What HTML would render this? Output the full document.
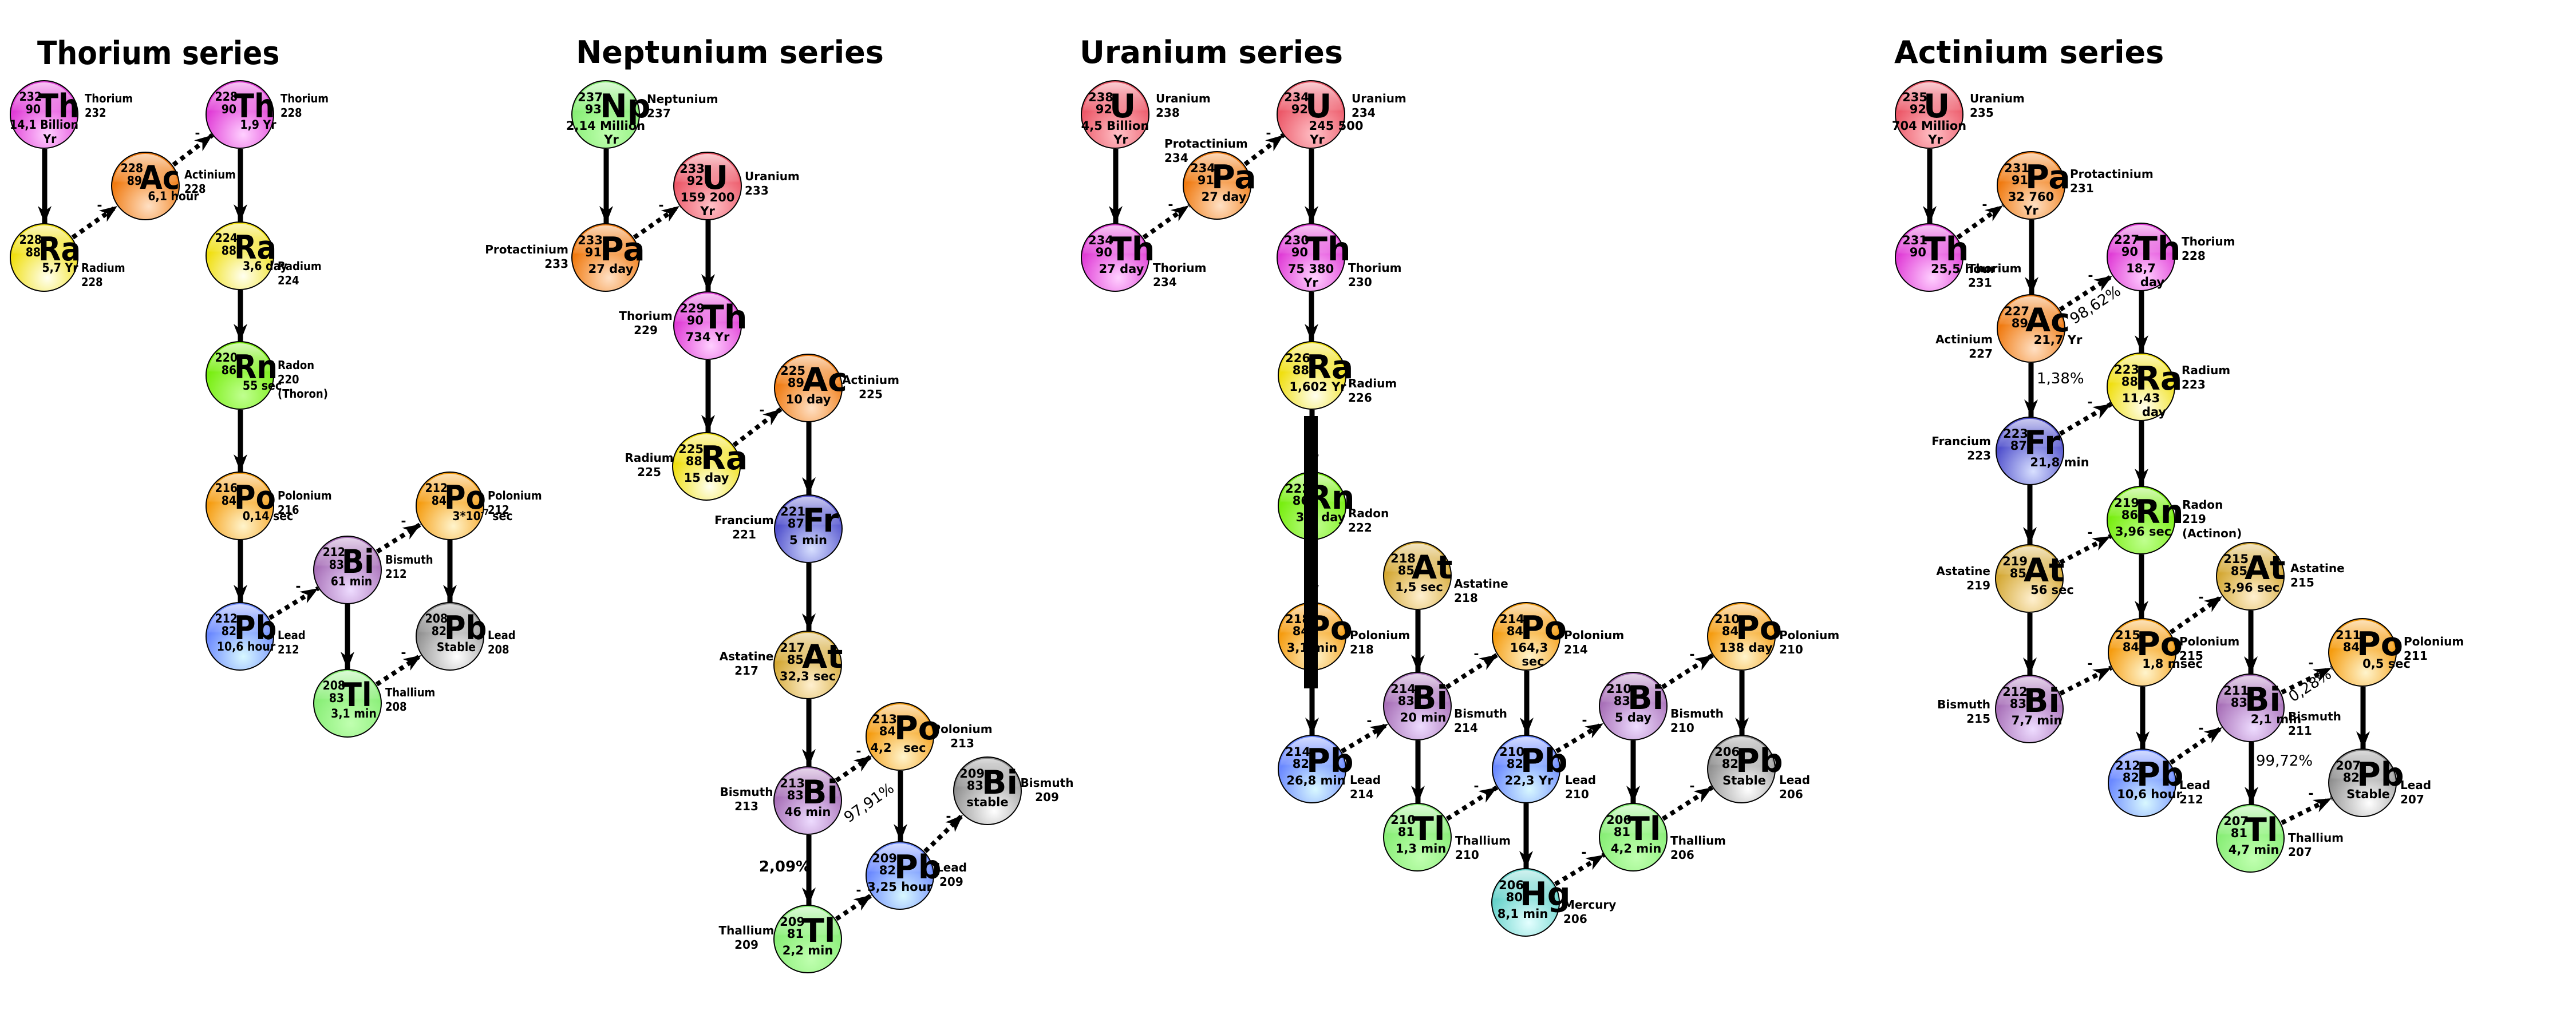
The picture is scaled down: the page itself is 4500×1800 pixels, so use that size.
<!DOCTYPE html>
<html><head><meta charset="utf-8">
<style>
html,body{margin:0;padding:0;background:#fff;}
svg{display:block;}
text{font-family:"DejaVu Sans","Liberation Sans",sans-serif;font-weight:bold;fill:#000;}
.cond text{font-family:"DejaVu Sans Condensed","DejaVu Sans","Liberation Sans Narrow",sans-serif;font-stretch:condensed;}
.n{font-size:21px;text-anchor:end;}
.s{font-size:57px;}
.h{font-size:21px;text-anchor:middle;}
.l{font-size:20px;}
.le{font-size:20px;text-anchor:end;}
.lm{font-size:20px;text-anchor:middle;}
.t{font-size:54px;}
.m{font-size:22px;text-anchor:middle;}
.p{font-size:26px;font-weight:normal;}
.pb{font-size:26px;}
.v{stroke:#000;stroke-width:9;marker-end:url(#ah);fill:none;}
.d{stroke:#000;stroke-width:8;stroke-dasharray:8 8;marker-end:url(#ah);fill:none;}
.c{stroke:#000;stroke-width:2;}
</style></head><body>
<svg width="4500" height="1800" viewBox="0 0 4500 1800" xmlns="http://www.w3.org/2000/svg">
<defs>
<marker id="ah" markerUnits="userSpaceOnUse" viewBox="-32 -13 34 26" markerWidth="34" markerHeight="26" refX="0" refY="0" orient="auto">
<path d="M0,0 L-31,-12 L-22,0 L-31,12 Z" fill="#000"/></marker>
<linearGradient id="gloss" x1="0" y1="0" x2="0" y2="1">
<stop offset="0" stop-color="#fff" stop-opacity="0.7"/><stop offset="0.42" stop-color="#fff" stop-opacity="0.12"/><stop offset="0.45" stop-color="#fff" stop-opacity="0"/><stop offset="1" stop-color="#fff" stop-opacity="0"/></linearGradient>
<circle id="gl" r="56" fill="url(#gloss)"/>
<radialGradient id="gTh" cx="0.55" cy="0.8" r="0.6"><stop offset="0" stop-color="#ffd0ff"/><stop offset="1" stop-color="#e03cd6"/></radialGradient>
<radialGradient id="gRa" cx="0.55" cy="0.8" r="0.6"><stop offset="0" stop-color="#fffff0"/><stop offset="1" stop-color="#f0df10"/></radialGradient>
<radialGradient id="gOr" cx="0.55" cy="0.8" r="0.6"><stop offset="0" stop-color="#ffe0c4"/><stop offset="1" stop-color="#f07a10"/></radialGradient>
<radialGradient id="gPo" cx="0.55" cy="0.8" r="0.6"><stop offset="0" stop-color="#fff4cc"/><stop offset="1" stop-color="#f59c10"/></radialGradient>
<radialGradient id="gRn" cx="0.55" cy="0.8" r="0.6"><stop offset="0" stop-color="#c0ff90"/><stop offset="1" stop-color="#78ee10"/></radialGradient>
<radialGradient id="gPb" cx="0.55" cy="0.8" r="0.6"><stop offset="0" stop-color="#d8f8ff"/><stop offset="1" stop-color="#6a88ff"/></radialGradient>
<radialGradient id="gSt" cx="0.6" cy="0.8" r="0.7"><stop offset="0" stop-color="#ffffff"/><stop offset="1" stop-color="#888888"/></radialGradient>
<radialGradient id="gBi" cx="0.55" cy="0.8" r="0.6"><stop offset="0" stop-color="#eedcff"/><stop offset="1" stop-color="#a870b8"/></radialGradient>
<radialGradient id="gTl" cx="0.55" cy="0.8" r="0.6"><stop offset="0" stop-color="#c0ffb0"/><stop offset="1" stop-color="#88ee76"/></radialGradient>
<radialGradient id="gU" cx="0.55" cy="0.8" r="0.6"><stop offset="0" stop-color="#ffc0c6"/><stop offset="1" stop-color="#ec5868"/></radialGradient>
<radialGradient id="gFr" cx="0.55" cy="0.8" r="0.6"><stop offset="0" stop-color="#d8e0ff"/><stop offset="1" stop-color="#5050cc"/></radialGradient>
<radialGradient id="gAt" cx="0.55" cy="0.8" r="0.6"><stop offset="0" stop-color="#fff0d0"/><stop offset="1" stop-color="#d4a834"/></radialGradient>
<radialGradient id="gHg" cx="0.55" cy="0.8" r="0.6"><stop offset="0" stop-color="#e4ffff"/><stop offset="1" stop-color="#66d2ca"/></radialGradient>
</defs>

<!-- ================= ARROWS ================= -->
<line class="v" x1="78" y1="260" x2="78" y2="391"/>
<line class="d" x1="127" y1="415" x2="205" y2="360"/>
<line class="d" x1="303" y1="288" x2="371" y2="236"/>
<line class="v" x1="420" y1="260" x2="420" y2="388"/>
<line class="v" x1="420" y1="507" x2="420" y2="597"/>
<line class="v" x1="420" y1="716" x2="420" y2="825"/>
<line class="v" x1="420" y1="944" x2="420" y2="1053"/>
<line class="d" x1="471" y1="1080" x2="556" y2="1028"/>
<line class="d" x1="659" y1="964" x2="735" y2="916"/>
<line class="v" x1="607" y1="1056" x2="607" y2="1170"/>
<line class="v" x1="786" y1="944" x2="786" y2="1053"/>
<line class="d" x1="658" y1="1196" x2="736" y2="1145"/>
<line class="v" x1="1059" y1="260" x2="1059" y2="391"/>
<line class="d" x1="1108" y1="415" x2="1187" y2="360"/>
<line class="v" x1="1237" y1="385" x2="1237" y2="510"/>
<line class="v" x1="1237" y1="629" x2="1237" y2="756"/>
<line class="d" x1="1282" y1="778" x2="1364" y2="715"/>
<line class="v" x1="1413" y1="738" x2="1413" y2="865"/>
<line class="v" x1="1413" y1="984" x2="1413" y2="1103"/>
<line class="v" x1="1413" y1="1222" x2="1413" y2="1340"/>
<line class="d" x1="1461" y1="1364" x2="1523" y2="1321"/>
<line class="v" x1="1413" y1="1459" x2="1413" y2="1582"/>
<line class="v" x1="1573" y1="1347" x2="1573" y2="1471"/>
<line class="d" x1="1461" y1="1606" x2="1523" y2="1564"/>
<line class="d" x1="1616" y1="1488" x2="1682" y2="1424"/>
<line class="v" x1="1949" y1="260" x2="1949" y2="391"/>
<line class="d" x1="1998" y1="415" x2="2077" y2="359"/>
<line class="d" x1="2175" y1="287" x2="2242" y2="236"/>
<line class="v" x1="2291" y1="260" x2="2291" y2="391"/>
<line class="v" x1="2291" y1="510" x2="2291" y2="597"/>
<line class="v" x1="2292" y1="716" x2="2292" y2="825"/>
<line class="v" x1="2292" y1="944" x2="2292" y2="1053"/>
<line class="v" x1="2292" y1="1172" x2="2292" y2="1285"/>
<line class="d" x1="2344" y1="1313" x2="2425" y2="1265"/>
<line class="v" x1="2477" y1="1066" x2="2477" y2="1175"/>
<line class="d" x1="2527" y1="1201" x2="2616" y2="1144"/>
<line class="v" x1="2477" y1="1294" x2="2477" y2="1404"/>
<line class="d" x1="2528" y1="1431" x2="2615" y2="1376"/>
<line class="v" x1="2667" y1="1172" x2="2667" y2="1285"/>
<line class="v" x1="2666" y1="1404" x2="2666" y2="1518"/>
<line class="d" x1="2719" y1="1313" x2="2801" y2="1264"/>
<line class="d" x1="2717" y1="1545" x2="2802" y2="1494"/>
<line class="v" x1="2853" y1="1294" x2="2853" y2="1404"/>
<line class="d" x1="2904" y1="1201" x2="2992" y2="1145"/>
<line class="v" x1="3043" y1="1172" x2="3043" y2="1285"/>
<line class="d" x1="2905" y1="1431" x2="2991" y2="1376"/>
<line class="v" x1="3371" y1="260" x2="3371" y2="391"/>
<line class="d" x1="3420" y1="415" x2="3499" y2="359"/>
<line class="v" x1="3549" y1="384" x2="3549" y2="515"/>
<line class="d" x1="3599" y1="541" x2="3690" y2="482"/>
<line class="v" x1="3548" y1="634" x2="3548" y2="729"/>
<line class="v" x1="3741" y1="509" x2="3741" y2="617"/>
<line class="d" x1="3599" y1="758" x2="3688" y2="706"/>
<line class="v" x1="3741" y1="736" x2="3741" y2="850"/>
<line class="v" x1="3546" y1="848" x2="3546" y2="952"/>
<line class="d" x1="3599" y1="983" x2="3687" y2="937"/>
<line class="v" x1="3741" y1="969" x2="3741" y2="1081"/>
<line class="v" x1="3546" y1="1071" x2="3546" y2="1180"/>
<line class="d" x1="3792" y1="1105" x2="3882" y2="1042"/>
<line class="d" x1="3599" y1="1212" x2="3688" y2="1167"/>
<line class="v" x1="3743" y1="1200" x2="3743" y2="1309"/>
<line class="v" x1="3932" y1="1067" x2="3932" y2="1178"/>
<line class="d" x1="3792" y1="1333" x2="3882" y2="1271"/>
<line class="d" x1="3986" y1="1210" x2="4073" y2="1167"/>
<line class="v" x1="3933" y1="1297" x2="3933" y2="1406"/>
<line class="v" x1="4128" y1="1200" x2="4128" y2="1309"/>
<line class="d" x1="3986" y1="1438" x2="4073" y2="1395"/>

<g>
<text class="m" x="174" y="366">-</text><text class="m" x="345" y="240">-</text><text class="m" x="521" y="1032">-</text><text class="m" x="705" y="918">-</text><text class="m" x="705" y="1148">-</text>
<text class="m" x="1155" y="366">-</text><text class="m" x="1331" y="724">-</text><text class="m" x="1500" y="1320">-</text><text class="m" x="1500" y="1563">-</text><text class="m" x="1657" y="1434">-</text>
<text class="m" x="2045" y="365">-</text><text class="m" x="2216" y="240">-</text><text class="m" x="2392" y="1267">-</text><text class="m" x="2579" y="1150">-</text><text class="m" x="2579" y="1381">-</text><text class="m" x="2768" y="1266">-</text><text class="m" x="2767" y="1497">-</text><text class="m" x="2956" y="1151">-</text><text class="m" x="2956" y="1381">-</text>
<text class="m" x="3467" y="365">-</text><text class="m" x="3652" y="489">-</text><text class="m" x="3651" y="710">-</text><text class="m" x="3651" y="938">-</text><text class="m" x="3651" y="1167">-</text><text class="m" x="3845" y="1051">-</text><text class="m" x="3845" y="1280">-</text><text class="m" x="4037" y="1166">-</text><text class="m" x="4037" y="1394">-</text>
</g>

<text class="p" transform="translate(1523,1410) rotate(-35)" text-anchor="middle">97,91%</text>
<text class="pb" x="1371" y="1523" text-anchor="middle">2,09%</text>
<text class="p" transform="translate(3665,540) rotate(-33)" text-anchor="middle">98,62%</text>
<text class="p" x="3558" y="670">1,38%</text>
<text class="p" transform="translate(4040,1205) rotate(-33)" text-anchor="middle">0,28%</text>
<text class="p" x="3941" y="1338">99,72%</text>

<g class="cond"><text x="65" y="112" style="font-size:56px">Thorium series</text></g>
<text class="t" x="1006" y="110">Neptunium series</text>
<text class="t" x="1886" y="110">Uranium series</text>
<text class="t" x="3309" y="110">Actinium series</text>

<g class="cond">
<g transform="translate(77,200)"><circle class="c" r="59" fill="url(#gTh)"/><use href="#gl"/><text class="n" x="-4" y="-24">232</text><text class="n" x="-6" y="-2">90</text><text class="s" x="-10" y="5">Th</text><text class="h" y="25">14,1 Billion</text><text class="h" x="10" y="50">Yr</text><text class="l" x="71" y="-21">Thorium</text><text class="l" x="71" y="4">232</text></g>
<g transform="translate(77,450)"><circle class="c" r="59" fill="url(#gRa)"/><use href="#gl"/><text class="n" x="-4" y="-24">228</text><text class="n" x="-6" y="-2">88</text><text class="s" x="-10" y="5">Ra</text><text class="h" x="28" y="25">5,7 Yr</text><text class="l" x="65" y="25">Radium</text><text class="l" x="65" y="50">228</text></g>
<g transform="translate(254,325)"><circle class="c" r="59" fill="url(#gOr)"/><use href="#gl"/><text class="n" x="-4" y="-24">228</text><text class="n" x="-6" y="-2">89</text><text class="s" x="-10" y="5">Ac</text><text class="h" x="49" y="25">6,1 hour</text><text class="l" x="68" y="-13">Actinium</text><text class="l" x="68" y="12">228</text></g>
<g transform="translate(419,200)"><circle class="c" r="59" fill="url(#gTh)"/><use href="#gl"/><text class="n" x="-4" y="-24">228</text><text class="n" x="-6" y="-2">90</text><text class="s" x="-10" y="5">Th</text><text class="h" x="32" y="25">1,9 Yr</text><text class="l" x="71" y="-21">Thorium</text><text class="l" x="71" y="4">228</text></g>
<g transform="translate(419,447)"><circle class="c" r="59" fill="url(#gRa)"/><use href="#gl"/><text class="n" x="-4" y="-24">224</text><text class="n" x="-6" y="-2">88</text><text class="s" x="-10" y="5">Ra</text><text class="h" x="44" y="25">3,6 day</text><text class="l" x="66" y="25">Radium</text><text class="l" x="66" y="50">224</text></g>
<g transform="translate(419,656)"><circle class="c" r="59" fill="url(#gRn)"/><use href="#gl"/><text class="n" x="-4" y="-24">220</text><text class="n" x="-6" y="-2">86</text><text class="s" x="-10" y="5">Rn</text><text class="h" x="39" y="25">55 sec</text><text class="l" x="66" y="-11">Radon</text><text class="l" x="66" y="14">220</text><text class="l" x="66" y="39">(Thoron)</text></g>
<g transform="translate(419,884)"><circle class="c" r="59" fill="url(#gPo)"/><use href="#gl"/><text class="n" x="-4" y="-24">216</text><text class="n" x="-6" y="-2">84</text><text class="s" x="-10" y="5">Po</text><text class="h" x="49" y="25">0,14 sec</text><text class="l" x="66" y="-11">Polonium</text><text class="l" x="66" y="14">216</text></g>
<g transform="translate(419,1112)"><circle class="c" r="59" fill="url(#gPb)"/><use href="#gl"/><text class="n" x="-4" y="-24">212</text><text class="n" x="-6" y="-2">82</text><text class="s" x="-10" y="5">Pb</text><text class="h" x="11" y="25">10,6 hour</text><text class="l" x="66" y="5">Lead</text><text class="l" x="66" y="30">212</text></g>
<g transform="translate(607,996)"><circle class="c" r="59" fill="url(#gBi)"/><use href="#gl"/><text class="n" x="-4" y="-24">212</text><text class="n" x="-6" y="-2">83</text><text class="s" x="-10" y="5">Bi</text><text class="h" x="7" y="27">61 min</text><text class="l" x="66" y="-11">Bismuth</text><text class="l" x="66" y="14">212</text></g>
<g transform="translate(786,884)"><circle class="c" r="59" fill="url(#gPo)"/><use href="#gl"/><text class="n" x="-4" y="-24">212</text><text class="n" x="-6" y="-2">84</text><text class="s" x="-10" y="5">Po</text><text class="h" x="57" y="25">3*10<tspan dy="-9" font-size="14">-7</tspan><tspan dy="9"> sec</tspan></text><text class="l" x="66" y="-11">Polonium</text><text class="l" x="66" y="14">212</text></g>
<g transform="translate(786,1112)"><circle class="c" r="59" fill="url(#gSt)"/><use href="#gl"/><text class="n" x="-4" y="-24">208</text><text class="n" x="-6" y="-2">82</text><text class="s" x="-10" y="5">Pb</text><text class="h" x="11" y="26">Stable</text><text class="l" x="66" y="5">Lead</text><text class="l" x="66" y="30">208</text></g>
<g transform="translate(607,1229)"><circle class="c" r="59" fill="url(#gTl)"/><use href="#gl"/><text class="n" x="-4" y="-24">208</text><text class="n" x="-6" y="-2">83</text><text class="s" x="-10" y="5">Tl</text><text class="h" x="11" y="25">3,1 min</text><text class="l" x="66" y="-12">Thallium</text><text class="l" x="66" y="13">208</text></g>
</g>

<g transform="translate(1058,200)"><circle class="c" r="59" fill="url(#gTl)"/><use href="#gl"/><text class="n" x="-5" y="-23">237</text><text class="n" x="-7" y="-2">93</text><text class="s" x="-10" y="5">Np</text><text class="h" y="27">2,14 Million</text><text class="h" x="10" y="51">Yr</text><text class="l" x="72" y="-20">Neptunium</text><text class="l" x="72" y="5">237</text></g>
<g transform="translate(1058,450)"><circle class="c" r="59" fill="url(#gOr)"/><use href="#gl"/><text class="n" x="-5" y="-23">233</text><text class="n" x="-7" y="-2">91</text><text class="s" x="-10" y="5">Pa</text><text class="h" x="9" y="27">27 day</text><text class="le" x="-65" y="-7">Protactinium</text><text class="le" x="-65" y="18">233</text></g>
<g transform="translate(1236,325)"><circle class="c" r="59" fill="url(#gU)"/><use href="#gl"/><text class="n" x="-5" y="-23">233</text><text class="n" x="-7" y="-2">92</text><text class="s" x="-10" y="5">U</text><text class="h" y="27">159 200</text><text class="h" y="51">Yr</text><text class="l" x="65" y="-10">Uranium</text><text class="l" x="65" y="15">233</text></g>
<g transform="translate(1236,569)"><circle class="c" r="59" fill="url(#gTh)"/><use href="#gl"/><text class="n" x="-5" y="-23">229</text><text class="n" x="-7" y="-2">90</text><text class="s" x="-10" y="5">Th</text><text class="h" y="27">734 Yr</text><text class="lm" x="-108" y="-10">Thorium</text><text class="lm" x="-108" y="15">229</text></g>
<g transform="translate(1234,815)"><circle class="c" r="59" fill="url(#gRa)"/><use href="#gl"/><text class="n" x="-5" y="-23">225</text><text class="n" x="-7" y="-2">88</text><text class="s" x="-10" y="5">Ra</text><text class="h" y="27">15 day</text><text class="lm" x="-100" y="-8">Radium</text><text class="lm" x="-100" y="17">225</text></g>
<g transform="translate(1412,678)"><circle class="c" r="59" fill="url(#gOr)"/><use href="#gl"/><text class="n" x="-5" y="-23">225</text><text class="n" x="-7" y="-2">89</text><text class="s" x="-10" y="5">Ac</text><text class="h" y="27">10 day</text><text class="lm" x="109" y="-7">Actinium</text><text class="lm" x="109" y="18">225</text></g>
<g transform="translate(1412,924)"><circle class="c" r="59" fill="url(#gFr)"/><use href="#gl"/><text class="n" x="-5" y="-23">221</text><text class="n" x="-7" y="-2">87</text><text class="s" x="-10" y="5">Fr</text><text class="h" y="27">5 min</text><text class="lm" x="-112" y="-8">Francium</text><text class="lm" x="-112" y="17">221</text></g>
<g transform="translate(1411,1162)"><circle class="c" r="59" fill="url(#gAt)"/><use href="#gl"/><text class="n" x="-5" y="-23">217</text><text class="n" x="-7" y="-2">85</text><text class="s" x="-10" y="5">At</text><text class="h" y="27">32,3 sec</text><text class="lm" x="-107" y="-8">Astatine</text><text class="lm" x="-107" y="17">217</text></g>
<g transform="translate(1411,1399)"><circle class="c" r="59" fill="url(#gBi)"/><use href="#gl"/><text class="n" x="-5" y="-23">213</text><text class="n" x="-7" y="-2">83</text><text class="s" x="-10" y="5">Bi</text><text class="h" y="27">46 min</text><text class="lm" x="-107" y="-8">Bismuth</text><text class="lm" x="-107" y="17">213</text></g>
<g transform="translate(1572,1287)"><circle class="c" r="59" fill="url(#gPo)"/><use href="#gl"/><text class="n" x="-5" y="-23">213</text><text class="n" x="-7" y="-2">84</text><text class="s" x="-10" y="5">Po</text><text class="h" x="-33" y="27">4,2</text><text class="h" x="26" y="27">sec</text><text class="lm" x="109" y="-6">Polonium</text><text class="lm" x="109" y="19">213</text></g>
<g transform="translate(1572,1530)"><circle class="c" r="59" fill="url(#gPb)"/><use href="#gl"/><text class="n" x="-5" y="-23">209</text><text class="n" x="-7" y="-2">82</text><text class="s" x="-10" y="5">Pb</text><text class="h" y="27">3,25 hour</text><text class="l" x="63" y="-7">Lead</text><text class="l" x="69" y="18">209</text></g>
<g transform="translate(1725,1382)"><circle class="c" r="59" fill="url(#gSt)"/><use href="#gl"/><text class="n" x="-5" y="-23">209</text><text class="n" x="-7" y="-2">83</text><text class="s" x="-10" y="5">Bi</text><text class="h" y="27">stable</text><text class="lm" x="104" y="-7">Bismuth</text><text class="lm" x="104" y="18">209</text></g>
<g transform="translate(1411,1641)"><circle class="c" r="59" fill="url(#gTl)"/><use href="#gl"/><text class="n" x="-5" y="-23">209</text><text class="n" x="-7" y="-2">81</text><text class="s" x="-10" y="5">Tl</text><text class="h" y="27">2,2 min</text><text class="lm" x="-107" y="-8">Thallium</text><text class="lm" x="-107" y="17">209</text></g>

<g transform="translate(1948,200)"><circle class="c" r="59" fill="url(#gU)"/><use href="#gl"/><text class="n" x="-3" y="-23">238</text><text class="n" x="-5" y="-2">92</text><text class="s" x="-10" y="5">U</text><text class="h" y="27">4,5 Billion</text><text class="h" x="10" y="51">Yr</text><text class="l" x="71" y="-21">Uranium</text><text class="l" x="71" y="4">238</text></g>
<g transform="translate(1948,450)"><circle class="c" r="59" fill="url(#gTh)"/><use href="#gl"/><text class="n" x="-3" y="-23">234</text><text class="n" x="-5" y="-2">90</text><text class="s" x="-10" y="5">Th</text><text class="h" x="11" y="27">27 day</text><text class="l" x="66" y="25">Thorium</text><text class="l" x="66" y="50">234</text></g>
<g transform="translate(2126,324)"><circle class="c" r="59" fill="url(#gOr)"/><use href="#gl"/><text class="n" x="-3" y="-23">234</text><text class="n" x="-5" y="-2">91</text><text class="s" x="-10" y="5">Pa</text><text class="h" x="12" y="27">27 day</text><text class="l" x="-92" y="-66">Protactinium</text><text class="l" x="-92" y="-41">234</text></g>
<g transform="translate(2290,200)"><circle class="c" r="59" fill="url(#gU)"/><use href="#gl"/><text class="n" x="-3" y="-23">234</text><text class="n" x="-5" y="-2">92</text><text class="s" x="-10" y="5">U</text><text class="h" x="44" y="27">245 500</text><text class="h" x="11" y="51">Yr</text><text class="l" x="71" y="-21">Uranium</text><text class="l" x="71" y="4">234</text></g>
<g transform="translate(2290,450)"><circle class="c" r="59" fill="url(#gTh)"/><use href="#gl"/><text class="n" x="-3" y="-23">230</text><text class="n" x="-5" y="-2">90</text><text class="s" x="-10" y="5">Th</text><text class="h" y="27">75 380</text><text class="h" y="51">Yr</text><text class="l" x="65" y="25">Thorium</text><text class="l" x="65" y="50">230</text></g>
<g transform="translate(2292,656)"><circle class="c" r="59" fill="url(#gRa)"/><use href="#gl"/><text class="n" x="-3" y="-23">226</text><text class="n" x="-5" y="-2">88</text><text class="s" x="-10" y="5">Ra</text><text class="h" x="10" y="27">1,602 Yr</text><text class="l" x="63" y="21">Radium</text><text class="l" x="63" y="46">226</text></g>
<g transform="translate(2292,884)"><circle class="c" r="59" fill="url(#gRn)"/><use href="#gl"/><text class="n" x="-3" y="-23">222</text><text class="n" x="-5" y="-2">86</text><text class="s" x="-10" y="5">Rn</text><text class="h" x="15" y="27">3,8 day</text><text class="l" x="63" y="20">Radon</text><text class="l" x="63" y="45">222</text></g>
<g transform="translate(2292,1112)"><circle class="c" r="59" fill="url(#gPo)"/><use href="#gl"/><text class="n" x="-3" y="-23">218</text><text class="n" x="-5" y="-2">84</text><text class="s" x="-10" y="5">Po</text><text class="h" y="27">3,1 min</text><text class="l" x="66" y="5">Polonium</text><text class="l" x="66" y="30">218</text></g>
<g transform="translate(2292,1344)"><circle class="c" r="59" fill="url(#gPb)"/><use href="#gl"/><text class="n" x="-3" y="-23">214</text><text class="n" x="-5" y="-2">82</text><text class="s" x="-10" y="5">Pb</text><text class="h" x="7" y="27">26,8 min</text><text class="l" x="66" y="26">Lead</text><text class="l" x="66" y="51">214</text></g>
<g transform="translate(2476,1006)"><circle class="c" r="59" fill="url(#gAt)"/><use href="#gl"/><text class="n" x="-3" y="-23">218</text><text class="n" x="-5" y="-2">85</text><text class="s" x="-10" y="5">At</text><text class="h" x="3" y="27">1,5 sec</text><text class="l" x="64" y="21">Astatine</text><text class="l" x="64" y="46">218</text></g>
<g transform="translate(2476,1234)"><circle class="c" r="59" fill="url(#gBi)"/><use href="#gl"/><text class="n" x="-3" y="-23">214</text><text class="n" x="-5" y="-2">83</text><text class="s" x="-10" y="5">Bi</text><text class="h" x="10" y="27">20 min</text><text class="l" x="64" y="20">Bismuth</text><text class="l" x="64" y="45">214</text></g>
<g transform="translate(2476,1463)"><circle class="c" r="59" fill="url(#gTl)"/><use href="#gl"/><text class="n" x="-3" y="-23">210</text><text class="n" x="-5" y="-2">81</text><text class="s" x="-10" y="5">Tl</text><text class="h" x="6" y="27">1,3 min</text><text class="l" x="66" y="13">Thallium</text><text class="l" x="66" y="38">210</text></g>
<g transform="translate(2666,1112)"><circle class="c" r="59" fill="url(#gPo)"/><use href="#gl"/><text class="n" x="-3" y="-23">214</text><text class="n" x="-5" y="-2">84</text><text class="s" x="-10" y="5">Po</text><text class="h" x="5" y="27">164,3</text><text class="h" x="12" y="51">sec</text><text class="l" x="66" y="5">Polonium</text><text class="l" x="66" y="30">214</text></g>
<g transform="translate(2666,1344)"><circle class="c" r="59" fill="url(#gPb)"/><use href="#gl"/><text class="n" x="-3" y="-23">210</text><text class="n" x="-5" y="-2">82</text><text class="s" x="-10" y="5">Pb</text><text class="h" x="5" y="27">22,3 Yr</text><text class="l" x="68" y="26">Lead</text><text class="l" x="68" y="51">210</text></g>
<g transform="translate(2665,1577)"><circle class="c" r="59" fill="url(#gHg)"/><use href="#gl"/><text class="n" x="-3" y="-23">206</text><text class="n" x="-5" y="-2">80</text><text class="s" x="-10" y="5">Hg</text><text class="h" x="-5" y="27">8,1 min</text><text class="l" x="66" y="11">Mercury</text><text class="l" x="66" y="36">206</text></g>
<g transform="translate(2853,1234)"><circle class="c" r="59" fill="url(#gBi)"/><use href="#gl"/><text class="n" x="-3" y="-23">210</text><text class="n" x="-5" y="-2">83</text><text class="s" x="-10" y="5">Bi</text><text class="h" y="27">5 day</text><text class="l" x="65" y="20">Bismuth</text><text class="l" x="65" y="45">210</text></g>
<g transform="translate(2853,1463)"><circle class="c" r="59" fill="url(#gTl)"/><use href="#gl"/><text class="n" x="-3" y="-23">206</text><text class="n" x="-5" y="-2">81</text><text class="s" x="-10" y="5">Tl</text><text class="h" x="5" y="27">4,2 min</text><text class="l" x="65" y="13">Thallium</text><text class="l" x="65" y="38">206</text></g>
<g transform="translate(3042,1112)"><circle class="c" r="59" fill="url(#gPo)"/><use href="#gl"/><text class="n" x="-3" y="-23">210</text><text class="n" x="-5" y="-2">84</text><text class="s" x="-10" y="5">Po</text><text class="h" x="8" y="27">138 day</text><text class="l" x="66" y="5">Polonium</text><text class="l" x="66" y="30">210</text></g>
<g transform="translate(3042,1344)"><circle class="c" r="59" fill="url(#gSt)"/><use href="#gl"/><text class="n" x="-3" y="-23">206</text><text class="n" x="-5" y="-2">82</text><text class="s" x="-10" y="5">Pb</text><text class="h" x="5" y="27">Stable</text><text class="l" x="66" y="26">Lead</text><text class="l" x="66" y="51">206</text></g>

<g transform="translate(3370,200)"><circle class="c" r="59" fill="url(#gU)"/><use href="#gl"/><text class="n" x="-3" y="-23">235</text><text class="n" x="-5" y="-2">92</text><text class="s" x="-10" y="5">U</text><text class="h" y="27">704 Million</text><text class="h" x="11" y="51">Yr</text><text class="l" x="71" y="-21">Uranium</text><text class="l" x="71" y="4">235</text></g>
<g transform="translate(3370,450)"><circle class="c" r="59" fill="url(#gTh)"/><use href="#gl"/><text class="n" x="-3" y="-23">231</text><text class="n" x="-5" y="-2">90</text><text class="s" x="-10" y="5">Th</text><text class="h" x="60" y="27">25,5 hour</text><text class="l" x="68" y="26">Thorium</text><text class="l" x="68" y="51">231</text></g>
<g transform="translate(3548,324)"><circle class="c" r="59" fill="url(#gOr)"/><use href="#gl"/><text class="n" x="-3" y="-23">231</text><text class="n" x="-5" y="-2">91</text><text class="s" x="-10" y="5">Pa</text><text class="h" y="27">32 760</text><text class="h" y="51">Yr</text><text class="l" x="68" y="-13">Protactinium</text><text class="l" x="68" y="12">231</text></g>
<g transform="translate(3548,574)"><circle class="c" r="59" fill="url(#gOr)"/><use href="#gl"/><text class="n" x="-3" y="-23">227</text><text class="n" x="-5" y="-2">89</text><text class="s" x="-10" y="5">Ac</text><text class="h" x="47" y="27">21,7 Yr</text><text class="le" x="-67" y="26">Actinium</text><text class="le" x="-67" y="51">227</text></g>
<g transform="translate(3740,449)"><circle class="c" r="59" fill="url(#gTh)"/><use href="#gl"/><text class="n" x="-3" y="-23">227</text><text class="n" x="-5" y="-2">90</text><text class="s" x="-10" y="5">Th</text><text class="h" y="27">18,7</text><text class="h" x="20" y="51">day</text><text class="l" x="71" y="-20">Thorium</text><text class="l" x="71" y="5">228</text></g>
<g transform="translate(3740,676)"><circle class="c" r="59" fill="url(#gRa)"/><use href="#gl"/><text class="n" x="-3" y="-23">223</text><text class="n" x="-5" y="-2">88</text><text class="s" x="-10" y="5">Ra</text><text class="h" y="27">11,43</text><text class="h" x="23" y="51">day</text><text class="l" x="71" y="-22">Radium</text><text class="l" x="71" y="3">223</text></g>
<g transform="translate(3546,788)"><circle class="c" r="59" fill="url(#gFr)"/><use href="#gl"/><text class="n" x="-3" y="-23">223</text><text class="n" x="-5" y="-2">87</text><text class="s" x="-10" y="5">Fr</text><text class="h" x="52" y="27">21,8 min</text><text class="le" x="-68" y="-10">Francium</text><text class="le" x="-68" y="15">223</text></g>
<g transform="translate(3740,909)"><circle class="c" r="59" fill="url(#gRn)"/><use href="#gl"/><text class="n" x="-3" y="-23">219</text><text class="n" x="-5" y="-2">86</text><text class="s" x="-10" y="5">Rn</text><text class="h" x="4" y="27">3,96 sec</text><text class="l" x="72" y="-20">Radon</text><text class="l" x="72" y="5">219</text><text class="l" x="72" y="30">(Actinon)</text></g>
<g transform="translate(3545,1011)"><circle class="c" r="59" fill="url(#gAt)"/><use href="#gl"/><text class="n" x="-3" y="-23">219</text><text class="n" x="-5" y="-2">85</text><text class="s" x="-10" y="5">At</text><text class="h" x="40" y="27">56 sec</text><text class="le" x="-68" y="-6">Astatine</text><text class="le" x="-68" y="19">219</text></g>
<g transform="translate(3742,1140)"><circle class="c" r="59" fill="url(#gPo)"/><use href="#gl"/><text class="n" x="-3" y="-23">215</text><text class="n" x="-5" y="-2">84</text><text class="s" x="-10" y="5">Po</text><text class="h" x="53" y="27">1,8 msec</text><text class="l" x="65" y="-12">Polonium</text><text class="l" x="65" y="13">215</text></g>
<g transform="translate(3931,1007)"><circle class="c" r="59" fill="url(#gAt)"/><use href="#gl"/><text class="n" x="-3" y="-23">215</text><text class="n" x="-5" y="-2">85</text><text class="s" x="-10" y="5">At</text><text class="h" x="2" y="27">3,96 sec</text><text class="l" x="70" y="-7">Astatine</text><text class="l" x="70" y="18">215</text></g>
<g transform="translate(3545,1239)"><circle class="c" r="59" fill="url(#gBi)"/><use href="#gl"/><text class="n" x="-3" y="-23">212</text><text class="n" x="-5" y="-2">83</text><text class="s" x="-10" y="5">Bi</text><text class="h" x="13" y="27">7,7 min</text><text class="le" x="-68" y="-1">Bismuth</text><text class="le" x="-68" y="24">215</text></g>
<g transform="translate(3931,1237)"><circle class="c" r="59" fill="url(#gBi)"/><use href="#gl"/><text class="n" x="-3" y="-23">211</text><text class="n" x="-5" y="-2">83</text><text class="s" x="-10" y="5">Bi</text><text class="h" x="45" y="27">2,1 min</text><text class="l" x="66" y="22">Bismuth</text><text class="l" x="66" y="47">211</text></g>
<g transform="translate(3742,1368)"><circle class="c" r="59" fill="url(#gPb)"/><use href="#gl"/><text class="n" x="-3" y="-23">212</text><text class="n" x="-5" y="-2">82</text><text class="s" x="-10" y="5">Pb</text><text class="h" x="13" y="27">10,6 hour</text><text class="l" x="65" y="11">Lead</text><text class="l" x="65" y="36">212</text></g>
<g transform="translate(4127,1140)"><circle class="c" r="59" fill="url(#gPo)"/><use href="#gl"/><text class="n" x="-3" y="-23">211</text><text class="n" x="-5" y="-2">84</text><text class="s" x="-10" y="5">Po</text><text class="h" x="42" y="27">0,5 sec</text><text class="l" x="72" y="-12">Polonium</text><text class="l" x="72" y="13">211</text></g>
<g transform="translate(3931,1465)"><circle class="c" r="59" fill="url(#gTl)"/><use href="#gl"/><text class="n" x="-3" y="-23">207</text><text class="n" x="-5" y="-2">81</text><text class="s" x="-10" y="5">Tl</text><text class="h" x="6" y="27">4,7 min</text><text class="l" x="66" y="6">Thallium</text><text class="l" x="66" y="31">207</text></g>
<g transform="translate(4127,1368)"><circle class="c" r="59" fill="url(#gSt)"/><use href="#gl"/><text class="n" x="-3" y="-23">207</text><text class="n" x="-5" y="-2">82</text><text class="s" x="-10" y="5">Pb</text><text class="h" x="10" y="27">Stable</text><text class="l" x="66" y="11">Lead</text><text class="l" x="66" y="36">207</text></g>

<rect x="2278" y="727" width="24" height="476" fill="#000"/>
</svg>
</body></html>
